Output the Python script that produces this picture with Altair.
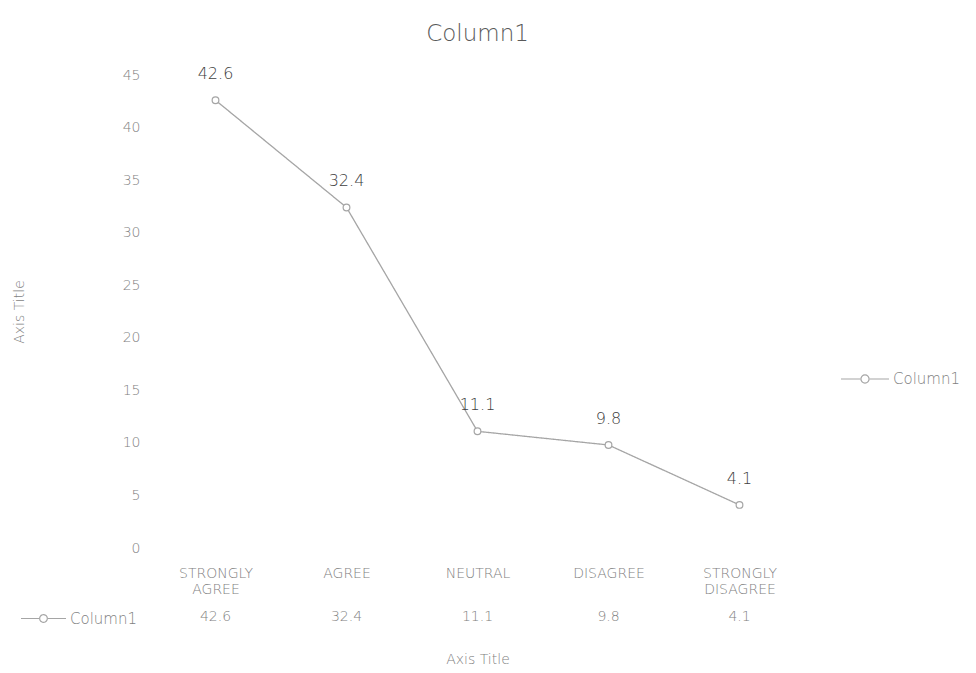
import altair as alt
import pandas as pd

categories = ["STRONGLY AGREE", "AGREE", "NEUTRAL", "DISAGREE", "STRONGLY DISAGREE"]
values = [42.6, 32.4, 11.1, 9.8, 4.1]
series_name = "Column1"
y_ticks = [0, 5, 10, 15, 20, 25, 30, 35, 40, 45]

df = pd.DataFrame({
    "category": categories,
    "value": values,
    "series": [series_name] * len(categories),
    "table": [series_name] * len(categories),
})

W, H = 655, 473
FONT = "DejaVu Sans"
LINE = "#a5a5a5"
TXT = "#7f7f7f"
DARK = "#404040"
LIGHT = 200
key_path = ("M-1,0L-0.2,0M0.2,0L1,0"
            "M-0.17,0A0.17,0.17 0 1,1 0.17,0A0.17,0.17 0 1,1 -0.17,0")

x_enc = alt.X(
    "category:N", sort=categories,
    axis=alt.Axis(
        labelAngle=0, domain=False, ticks=False, grid=False,
        labelExpr="split(datum.label, ' ')",
        labelBaseline="middle", labelPadding=25, labelFontSize=14,
        labelColor=TXT, labelFont=FONT, labelFontWeight=LIGHT, labelLineHeight=16,
        title="Axis Title", titleFont=FONT, titleFontSize=14,
        titleFontWeight=LIGHT, titleColor=TXT, titleY=104,
    ),
)
y_enc = alt.Y(
    "value:Q", scale=alt.Scale(domain=[0, 45], nice=False),
    axis=alt.Axis(
        values=y_ticks, domain=False, ticks=False, grid=False,
        labelPadding=10, labelFontSize=14, labelColor=TXT, labelFont=FONT,
        labelFontWeight=LIGHT,
        title="Axis Title", titleFont=FONT, titleFontSize=14,
        titleFontWeight=LIGHT, titleColor=TXT, titleX=-124, titleY=H / 2,
    ),
)

base = alt.Chart(df)

line = base.mark_line(strokeWidth=1.3).encode(
    x=x_enc, y=y_enc,
    color=alt.Color(
        "series:N", scale=alt.Scale(range=[LINE]),
        legend=alt.Legend(
            title=None, orient="none", legendX=690, legendY=279, padding=0,
            symbolType=key_path, symbolSize=2304, symbolStrokeWidth=1.2,
            symbolFillColor="white", labelFont=FONT, labelFontSize=15,
            labelFontWeight=LIGHT, labelColor=TXT, labelOffset=3,
        ),
    ),
    strokeDash=alt.StrokeDash(
        "table:N", scale=alt.Scale(range=[[1, 0]]),
        legend=alt.Legend(
            title=None, orient="none", legendX=-130, legendY=H + 69 - 22, padding=0,
            symbolType=key_path, symbolSize=2025, symbolStrokeWidth=1.2,
            symbolStrokeColor=LINE, symbolFillColor="white",
            labelFont=FONT, labelFontSize=15, labelFontWeight=LIGHT,
            labelColor=TXT, labelOffset=3,
        ),
    ),
)

points = base.mark_point(
    shape="circle", size=45, filled=False, color=LINE, fill="white",
    strokeWidth=1.2, opacity=1,
).encode(x=alt.X("category:N", sort=categories), y="value:Q")

labels = base.mark_text(
    dy=-26, fontSize=16, color=DARK, font=FONT, fontWeight=LIGHT,
).encode(
    x=alt.X("category:N", sort=categories), y="value:Q",
    text=alt.Text("value:Q", format=".1f"),
)

table = base.mark_text(
    fontSize=14, color=TXT, font=FONT, baseline="middle", fontWeight=LIGHT,
).encode(
    x=alt.X("category:N", sort=categories),
    y=alt.value(H + 69),
    text=alt.Text("value:Q", format=".1f"),
)

chart = alt.layer(line, points, labels, table).properties(
    width=W, height=H,
    title=alt.TitleParams(
        "Column1", fontSize=23, color="#595959", font=FONT,
        fontWeight=LIGHT, anchor="middle", offset=20,
    ),
    background="white",
    autosize=alt.AutoSizeParams(type="none"),
    padding={"left": 142, "top": 67, "right": 163, "bottom": 117},
).configure_view(strokeWidth=0, stroke=None)

chart.save("out.html", embed_options={"renderer": "svg", "actions": False})
